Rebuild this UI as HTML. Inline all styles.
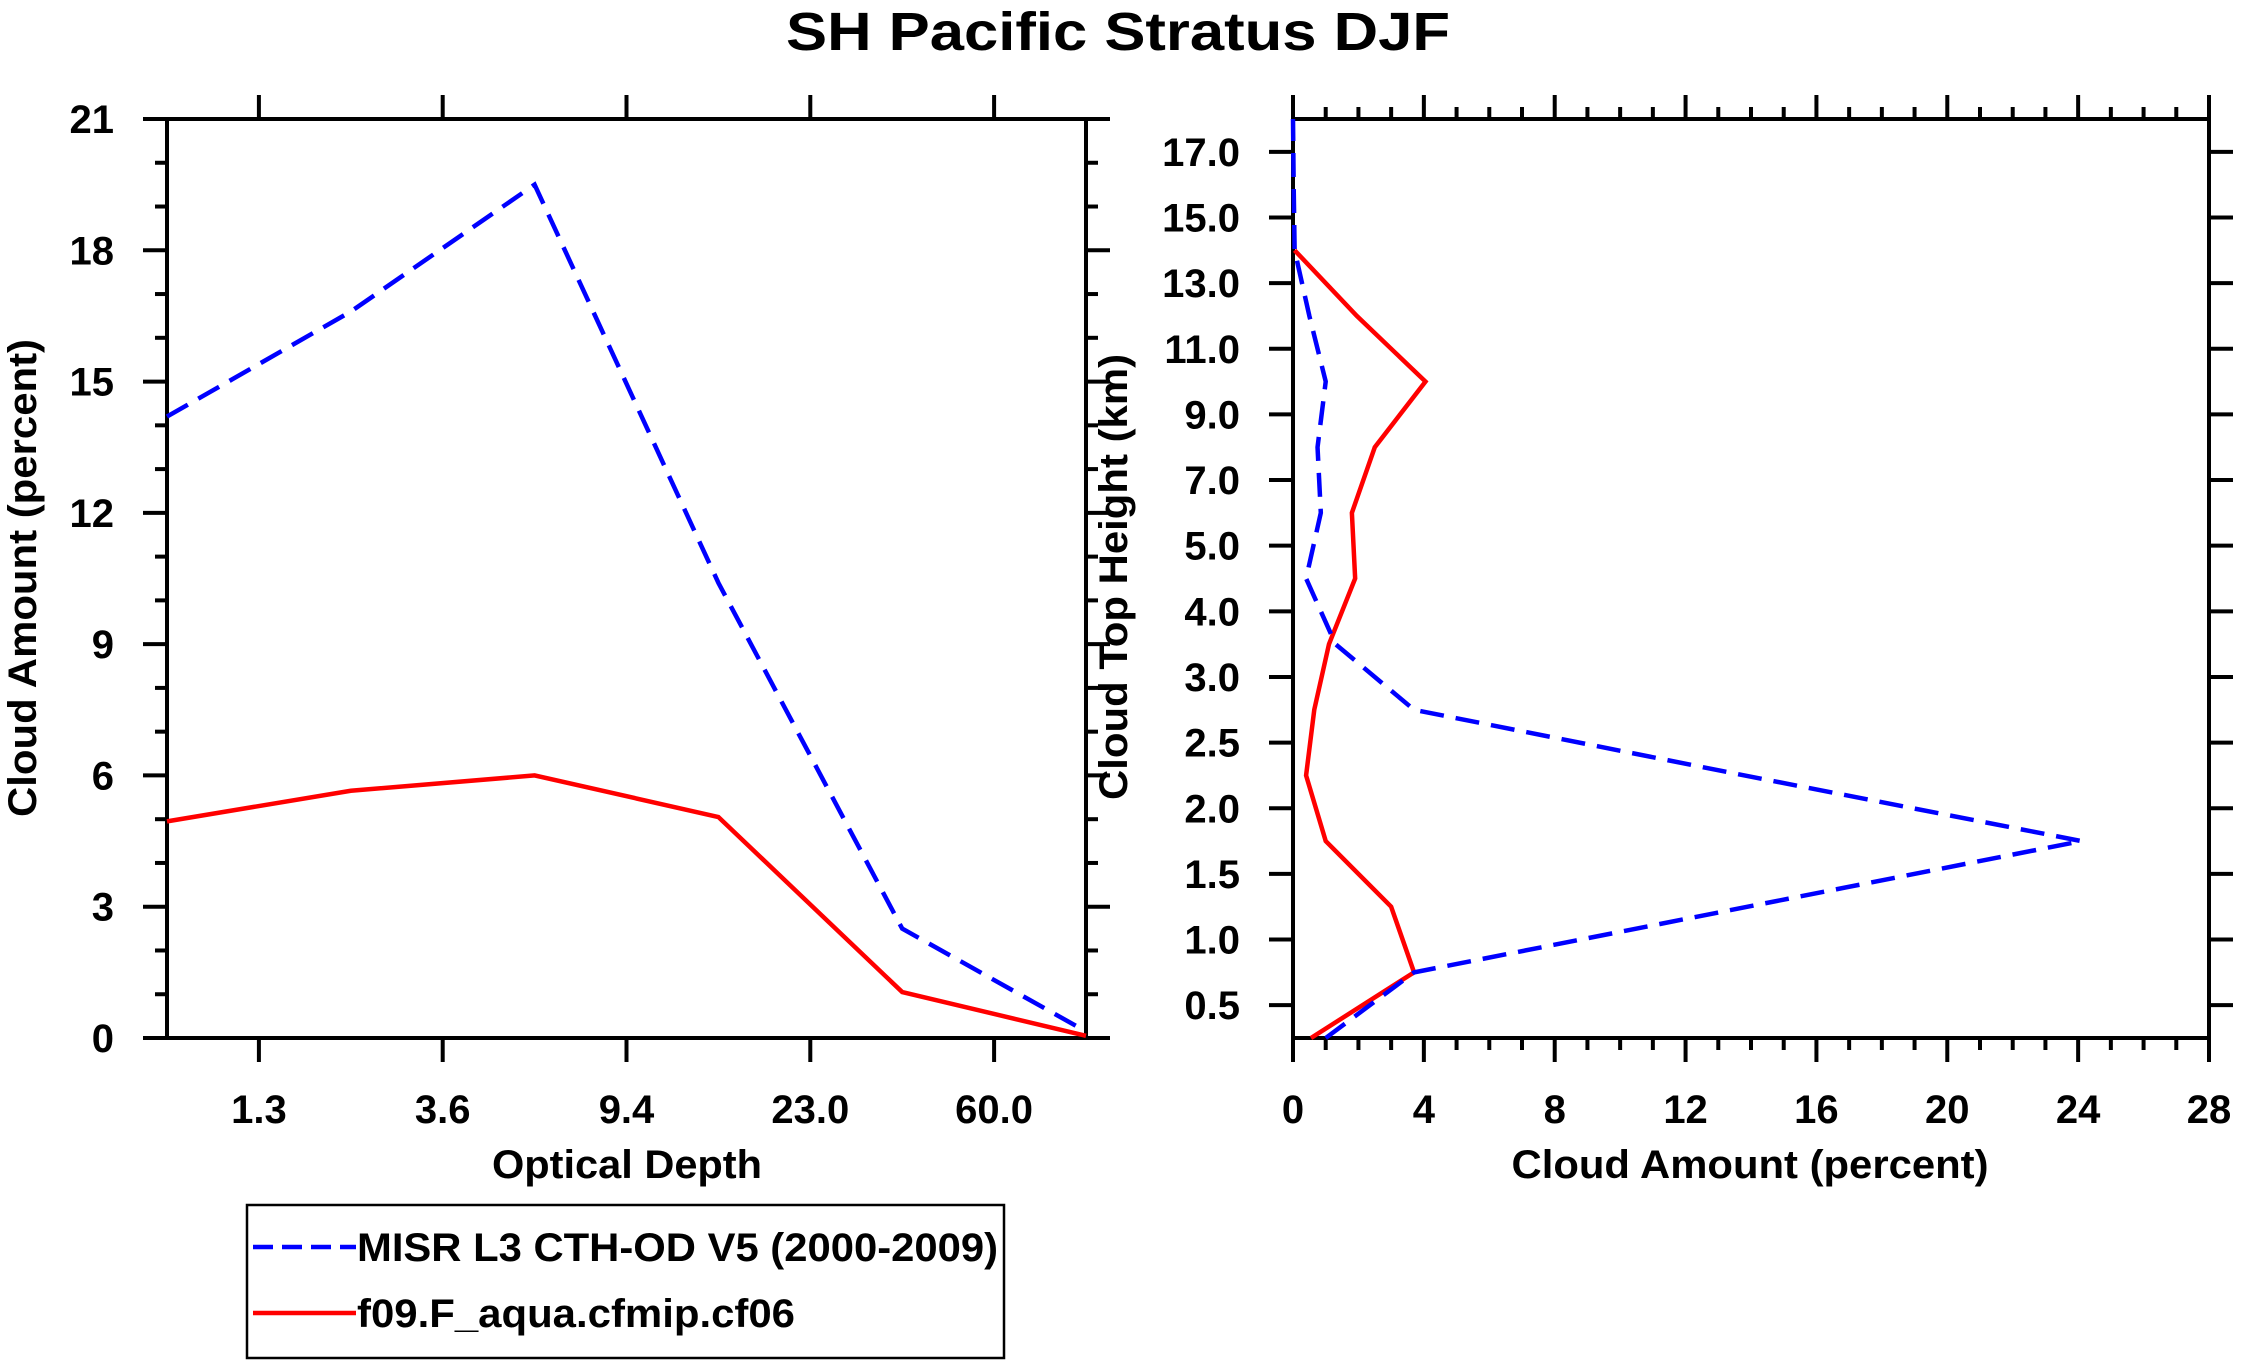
<!DOCTYPE html>
<html><head><meta charset="utf-8"><style>
html,body{margin:0;padding:0;background:#fff;}
svg{display:block;font-family:"Liberation Sans",sans-serif;font-weight:bold;}
</style></head><body>
<svg id="chart" width="2241" height="1367" viewBox="0 0 2241 1367" xmlns="http://www.w3.org/2000/svg">
<text x="1118" y="50" text-anchor="middle" font-size="54" textLength="664" lengthAdjust="spacingAndGlyphs">SH Pacific Stratus DJF</text>
<g id="left"></g>
<g id="right"></g>
<g>
<rect x="247" y="1205" width="757" height="153" fill="none" stroke="#000" stroke-width="2.5"/>
<line x1="253" y1="1247" x2="356" y2="1247" stroke="#0000ff" stroke-width="4.5" stroke-dasharray="20,9"/>
<text x="357" y="1261" font-size="40" textLength="641" lengthAdjust="spacingAndGlyphs">MISR L3 CTH-OD V5 (2000-2009)</text>
<line x1="253" y1="1313" x2="356" y2="1313" stroke="#ff0000" stroke-width="4.5"/>
<text x="357" y="1327" font-size="40" textLength="438" lengthAdjust="spacingAndGlyphs">f09.F_aqua.cfmip.cf06</text>
</g>
</svg>
<script>
// Left panel data
const odCategories = ["1.3","3.6","9.4","23.0","60.0"];
const odMisr = [14.2, 16.6, 19.5, 10.4, 2.5, 0.15];
const odModel = [4.95, 5.65, 6.0, 5.05, 1.05, 0.05];
const leftYTicks = [0,3,6,9,12,15,18,21];
// Right panel data
const cthLabels = ["0.5","1.0","1.5","2.0","2.5","3.0","4.0","5.0","7.0","9.0","11.0","13.0","15.0","17.0"];
const cthMisr = [1.0, 3.7, 13.9, 24.1, 13.8, 3.7, 1.3, 0.4, 0.85, 0.75, 1.0, 0.5, 0.05, 0.02, 0.0];
const cthModel = [0.55, 3.7, 3.0, 1.0, 0.4, 0.65, 1.1, 1.9, 1.8, 2.5, 4.05, 1.95, 0.05, null, null];
const rightXTicks = [0,4,8,12,16,20,24,28];

const NS = "http://www.w3.org/2000/svg";
function mk(parent, tag, attrs, txt){
  const e = document.createElementNS(NS, tag);
  for (const k in attrs) e.setAttribute(k, attrs[k]);
  if (txt !== undefined) e.textContent = txt;
  parent.appendChild(e);
  return e;
}
const T = 119, B = 1038;
// ---------- Left panel ----------
const L = document.getElementById('left');
const lx0 = 167, lx1 = 1086;
const lxs = i => lx0 + (lx1 - lx0) * i / (odMisr.length - 1);
const lys = v => B - (B - T) * v / 21;
const frame = mk(L, 'rect', {x:lx0, y:T, width:lx1-lx0, height:B-T, fill:'none', stroke:'#000', 'stroke-width':4});


for (let v = 0; v <= 21; v++) {
  const major = v % 3 === 0;
  const len = major ? 24 : 12;
  const y = lys(v);
  const t1 = mk(L, 'line', {x1:lx0-len, y1:y, x2:lx0, y2:y, stroke:'#000', 'stroke-width':4});
  
  
  const t2 = mk(L, 'line', {x1:lx1, y1:y, x2:lx1+len, y2:y, stroke:'#000', 'stroke-width':4});
  
  
}
leftYTicks.forEach(v => {
  const t = mk(L, 'text', {x:114, y:lys(v)+14, 'text-anchor':'end', 'font-size':40}, String(v));
  
  
});
odCategories.forEach((c, i) => {
  const x = lxs(i + 0.5);
  const a = mk(L, 'line', {x1:x, y1:B, x2:x, y2:B+24, stroke:'#000', 'stroke-width':4});
  
  
  const b = mk(L, 'line', {x1:x, y1:T-24, x2:x, y2:T, stroke:'#000', 'stroke-width':4});
  
  
  const t = mk(L, 'text', {x:x, y:1123, 'text-anchor':'middle', 'font-size':40}, c);
  
  
});
const lxt = mk(L, 'text', {x:627, y:1178, 'text-anchor':'middle', 'font-size':40, textLength:270, lengthAdjust:'spacingAndGlyphs'}, 'Optical Depth');


const lyt = mk(L, 'text', {x:0, y:0, 'text-anchor':'middle', 'font-size':40, textLength:478, lengthAdjust:'spacingAndGlyphs', transform:'translate(36,578) rotate(-90)'}, 'Cloud Amount (percent)');


const lm = mk(L, 'polyline', {points: odMisr.map((v,i)=>lxs(i)+','+lys(v)).join(' '), fill:'none', stroke:'#0000ff', 'stroke-width':4.5, 'stroke-dasharray':'24,12'});


const lmod = mk(L, 'polyline', {points: odModel.map((v,i)=>lxs(i)+','+lys(v)).join(' '), fill:'none', stroke:'#ff0000', 'stroke-width':4.5});



// ---------- Right panel ----------
const R = document.getElementById('right');
const rx0 = 1293, rx1 = 2209;
const rxs = v => rx0 + (rx1 - rx0) * v / 28;
const rys = j => B - (B - T) * j / (cthMisr.length - 1);
const rf = mk(R, 'rect', {x:rx0, y:T, width:rx1-rx0, height:B-T, fill:'none', stroke:'#000', 'stroke-width':4});


for (let v = 0; v <= 28; v++) {
  const major = v % 4 === 0;
  const len = major ? 24 : 12;
  const x = rxs(v);
  const a = mk(R, 'line', {x1:x, y1:B, x2:x, y2:B+len, stroke:'#000', 'stroke-width':4});
  
  
  const b = mk(R, 'line', {x1:x, y1:T-len, x2:x, y2:T, stroke:'#000', 'stroke-width':4});
  
  
}
rightXTicks.forEach(v => {
  const t = mk(R, 'text', {x:rxs(v), y:1123, 'text-anchor':'middle', 'font-size':40}, String(v));
  
  
});
cthLabels.forEach((c, i) => {
  const y = rys(i + 0.5);
  const a = mk(R, 'line', {x1:rx0-24, y1:y, x2:rx0, y2:y, stroke:'#000', 'stroke-width':4});
  
  
  const b = mk(R, 'line', {x1:rx1, y1:y, x2:rx1+24, y2:y, stroke:'#000', 'stroke-width':4});
  
  
  const t = mk(R, 'text', {x:1240, y:y+14, 'text-anchor':'end', 'font-size':40}, c);
  
  
});
const rxt = mk(R, 'text', {x:1750, y:1178, 'text-anchor':'middle', 'font-size':40, textLength:477, lengthAdjust:'spacingAndGlyphs'}, 'Cloud Amount (percent)');


const ryt = mk(R, 'text', {x:0, y:0, 'text-anchor':'middle', 'font-size':40, textLength:446, lengthAdjust:'spacingAndGlyphs', transform:'translate(1127,577) rotate(-90)'}, 'Cloud Top Height (km)');


const rmod = mk(R, 'polyline', {points: cthModel.map((v,j)=>v===null?null:rxs(v)+','+rys(j)).filter(p=>p!==null).join(' '), fill:'none', stroke:'#ff0000', 'stroke-width':4.5});


const rm = mk(R, 'polyline', {points: cthMisr.map((v,j)=>rxs(v)+','+rys(j)).join(' '), fill:'none', stroke:'#0000ff', 'stroke-width':4.5, 'stroke-dasharray':'24,12'});


</script>
</body></html>
